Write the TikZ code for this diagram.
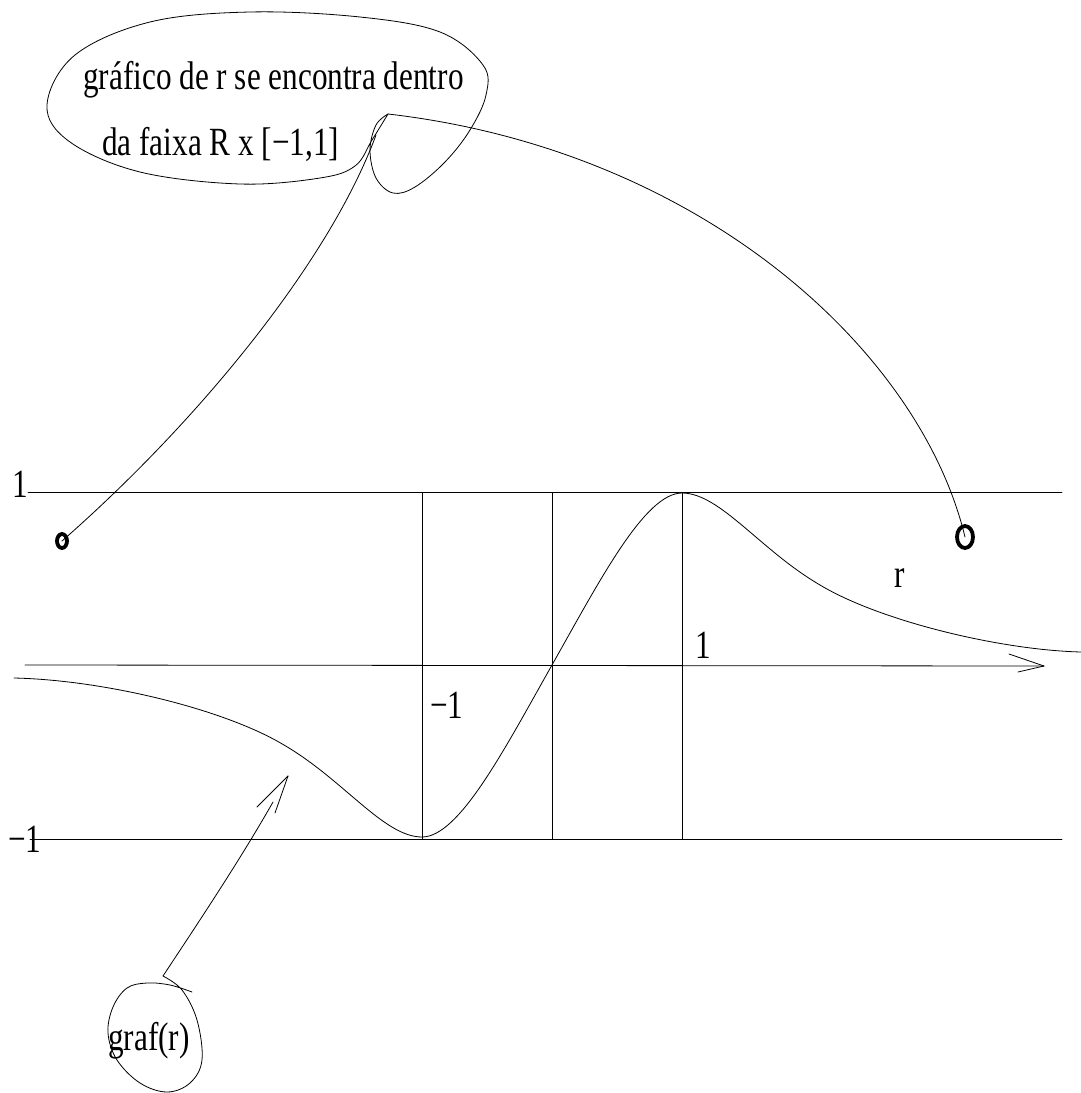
\documentclass[tikz,border=0pt]{standalone}
\usepackage{fontspec}
\setmainfont{Liberation Serif}
\begin{document}
\begin{tikzpicture}[x=1pt, y=-1pt, line width=0.8pt, line join=round, line cap=round,
  lab/.style={font=\fontsize{40}{46}\selectfont, inner sep=0pt, anchor=base west, xscale=0.78},
  ring/.style={line width=3.8pt}]
  \useasboundingbox (0,0) rectangle (1081,1093);

  % Strip y=1, y=-1 and the axis
  \coordinate (up0) at (28,492);  \coordinate (up1) at (1062,492);
  \coordinate (lo0) at (30,839);  \coordinate (lo1) at (1062,839);
  \coordinate (ax0) at (25,665);  \coordinate (ax1) at (1044,666);
  \draw (up0) -- (up1);
  \draw (lo0) -- (lo1);
  \draw (ax0) -- (ax1);
  \draw (ax1) -- +(-35,-12);
  \draw (ax1) -- +(-26,6);
  \node[lab] (one) at (12,497) {1};
  \node[lab] (mone) at (8,852) {−1};

  % Boxes round the origin
  \draw (422,492) rectangle (552,839);
  \draw (552,492) rectangle (682,839);
  \draw (422,665) -- (682,665);
  \node[lab] (xone) at (695,658) {1};
  \node[lab] (xmone) at (430,718) {−1};

  % Graph of r
  \draw (14,678) .. controls (104,680) and (224,709) .. (284,745)
    .. controls (344,780) and (384,837) .. (422,837)
    .. controls (459,837) and (504,750) .. (552,665)
    .. controls (600,580) and (645,493) .. (682,493)
    .. controls (720,493) and (760,550) .. (820,585)
    .. controls (880,621) and (1000,650) .. (1081,652);
  \node[lab] (rlab) at (894,587) {r};

  % Rings
  \coordinate (lc) at (62,541);
  \coordinate (rc) at (965,537);
  \draw[ring] (lc) ellipse [x radius=5, y radius=7];
  \draw[ring] (rc) ellipse [x radius=8, y radius=11];

  % Bubble on top
  \coordinate (tl) at (376,135);
  \coordinate (tr) at (388,114);
  \draw plot[smooth, tension=0.6] coordinates {(tr) (372,140) (355,166) (320,178) (240,184)
    (140,172) (70,142) (47,105) (75,55) (150,22) (250,12) (360,17) (440,32) (483,65)
    (486,95) (470,130) (445,162) (415,187) (393,193) (376,178) (370,150) (376,125) (388,114)};
  \node[lab] (txt1) at (83,89) {gráfico de r se encontra dentro};
  \node[lab] (txt2) at (102,155) {da faixa R x [−1,1]};
  \draw (lc) .. controls (200,420) and (330,260) .. (tl);
  \draw (rc) .. controls (920,350) and (700,150) .. (tr);

  % graf(r) with its arrow
  \coordinate (tip) at (288,776);
  \coordinate (apex) at (163,976);
  \draw (tip) -- (257,807);
  \draw (tip) -- (275,813);
  \draw (273,802) .. controls (240,860) and (200,920) .. (apex);
  \draw plot[smooth, tension=0.6] coordinates {(apex) (182,990) (197,1020) (202,1060) (190,1083)
    (167,1092) (140,1083) (117,1060) (108,1033) (113,1007) (127,988) (147,983) (170,985) (192,992)};
  \node[lab] (graf) at (108,1050) {graf(r)};
\end{tikzpicture}
\end{document}
